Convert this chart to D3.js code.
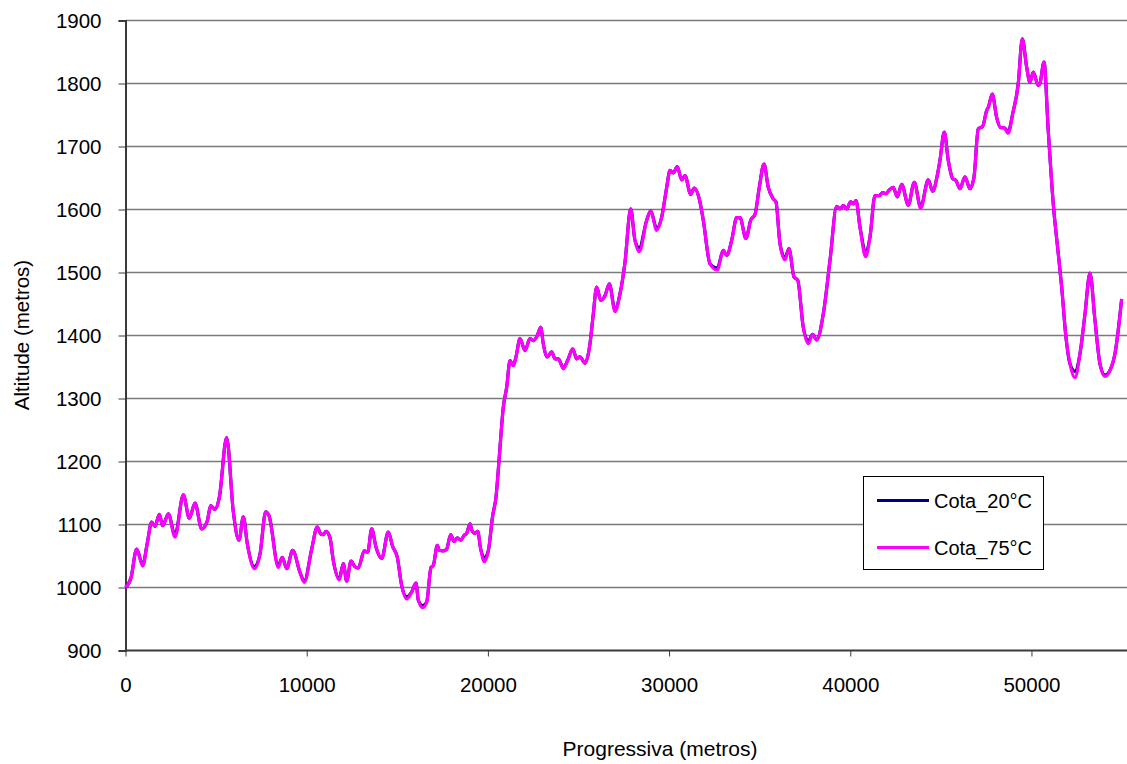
<!DOCTYPE html>
<html>
<head>
<meta charset="utf-8">
<script src="https://cdn.jsdelivr.net/npm/d3@7"></script>
<style>
  body { margin: 0; background: #fff; }
  text { font-family: "Liberation Sans", Arial, sans-serif; fill: #000; }
</style>
</head>
<body>
<div id="my_dataviz"></div>
<script>
// data
var progressiva = [0, 300, 617, 948, 1200, 1445, 1628, 1867, 2050, 2364, 2732, 3192, 3523, 3836, 4204, 4517, 4700, 4939, 5178, 5583,
  5951, 6264, 6503, 6724, 7110, 7423, 7737, 7919, 8433, 8653, 8896, 9227, 9630, 9868, 10276, 10585, 10773, 10917, 11065, 11286,
  11468, 11799, 12020, 12207, 12445, 12666, 12848, 13178, 13366, 13587, 13825, 14139, 14503, 14746, 15000, 15243, 15519, 15795, 16032, 16159,
  16402, 16623, 16860, 16987, 17208, 17318, 17539, 17726, 17947, 18129, 18311, 18499, 18698, 18830, 19012, 19139, 19288, 19437, 19603, 19801,
  20022, 20265, 20447, 20629, 20850, 21038, 21220, 21402, 21551, 21772, 22048, 22323, 22506, 22726, 22914, 23057, 23278, 23521, 23703, 23885,
  24161, 24437, 24680, 24901, 25083, 25359, 25635, 25817, 26004, 26225, 26462, 26700, 27015, 27290, 27566, 27881, 28118, 28355, 28764, 28985,
  29316, 29592, 29868, 30050, 30232, 30453, 30695, 30877, 31192, 31391, 31667, 31888, 32257, 32660, 32991, 33179, 33455, 33731, 33913, 34244,
  34503, 34740, 34978, 35237, 35475, 35751, 35900, 36120, 36396, 36617, 36893, 37097, 37406, 37682, 37925, 38146, 38510, 38880, 39249, 39432,
  39614, 39801, 40022, 40166, 40315, 40536, 40850, 41087, 41363, 41601, 41788, 41970, 42152, 42373, 42594, 42836, 43201, 43532, 43885, 44305,
  44548, 44801, 44950, 45188, 45408, 45651, 45833, 46054, 46329, 46605, 46826, 47064, 47307, 47527, 47616, 47836, 48079, 48300, 48482, 48719,
  48963, 49272, 49493, 49735, 49917, 50099, 50375, 50469, 50690, 50927, 51203, 51479, 51667, 51904, 52125, 52401, 52677, 52953, 53229, 53505,
  53780, 54056, 54370, 54608, 54978];

var cota20 = [1000, 1015, 1061, 1036, 1070, 1104, 1097, 1116, 1098, 1117, 1083, 1147, 1110, 1134, 1093, 1106, 1130, 1124, 1143, 1238,
  1120, 1075, 1112, 1069, 1033, 1053, 1120, 1114, 1035, 1048, 1030, 1059, 1024, 1010, 1061, 1096, 1085, 1084, 1089, 1079,
  1043, 1014, 1038, 1010, 1042, 1033, 1031, 1058, 1056, 1093, 1064, 1046, 1088, 1065, 1048, 1003, 985, 993, 1007, 980,
  971, 977, 1032, 1035, 1067, 1059, 1058, 1061, 1084, 1073, 1079, 1075, 1083, 1086, 1101, 1089, 1086, 1089, 1061, 1047,
  1058, 1114, 1143, 1207, 1286, 1318, 1360, 1352, 1366, 1395, 1376, 1395, 1392, 1400, 1413, 1387, 1366, 1374, 1363, 1363,
  1349, 1363, 1379, 1363, 1366, 1356, 1387, 1434, 1477, 1456, 1463, 1482, 1441, 1466, 1516, 1601, 1551, 1539, 1583, 1598,
  1570, 1588, 1635, 1662, 1658, 1668, 1647, 1654, 1624, 1634, 1617, 1583, 1514, 1507, 1535, 1527, 1551, 1587, 1587, 1554,
  1583, 1592, 1635, 1672, 1635, 1617, 1612, 1546, 1523, 1538, 1493, 1488, 1413, 1391, 1402, 1393, 1434, 1519, 1605, 1601,
  1606, 1601, 1612, 1609, 1614, 1572, 1534, 1556, 1622, 1622, 1627, 1625, 1631, 1635, 1620, 1640, 1607, 1643, 1604, 1647,
  1629, 1654, 1678, 1723, 1678, 1649, 1646, 1633, 1652, 1633, 1651, 1728, 1732, 1757, 1762, 1783, 1746, 1730, 1730, 1724,
  1752, 1800, 1871, 1826, 1802, 1818, 1797, 1800, 1834, 1725, 1609, 1530, 1477, 1397, 1355, 1343, 1371, 1434, 1499, 1424,
  1355, 1337, 1347, 1371, 1458];

var cota75 = [1000, 1015, 1061, 1034, 1070, 1104, 1097, 1116, 1098, 1117, 1080, 1147, 1110, 1134, 1093, 1106, 1130, 1124, 1143, 1238,
  1120, 1075, 1112, 1069, 1030, 1053, 1120, 1114, 1032, 1048, 1030, 1059, 1024, 1008, 1061, 1096, 1085, 1084, 1089, 1079,
  1043, 1012, 1038, 1010, 1042, 1033, 1031, 1058, 1056, 1093, 1064, 1046, 1088, 1065, 1048, 1003, 982, 993, 1007, 980,
  968, 977, 1032, 1035, 1067, 1059, 1058, 1061, 1084, 1073, 1079, 1075, 1083, 1086, 1101, 1089, 1086, 1089, 1061, 1041,
  1058, 1114, 1143, 1207, 1286, 1318, 1360, 1352, 1366, 1395, 1376, 1395, 1392, 1400, 1413, 1387, 1366, 1374, 1363, 1363,
  1347, 1363, 1379, 1363, 1366, 1356, 1387, 1434, 1477, 1456, 1463, 1482, 1438, 1466, 1516, 1601, 1551, 1533, 1583, 1598,
  1567, 1588, 1635, 1662, 1658, 1668, 1647, 1654, 1624, 1634, 1617, 1583, 1514, 1504, 1535, 1527, 1551, 1587, 1587, 1554,
  1583, 1592, 1635, 1672, 1635, 1617, 1612, 1546, 1520, 1538, 1493, 1488, 1413, 1387, 1402, 1393, 1434, 1519, 1605, 1601,
  1606, 1601, 1612, 1609, 1614, 1572, 1525, 1556, 1622, 1622, 1627, 1625, 1631, 1635, 1620, 1640, 1607, 1643, 1602, 1647,
  1629, 1654, 1678, 1723, 1678, 1649, 1646, 1633, 1652, 1633, 1651, 1728, 1732, 1757, 1762, 1783, 1746, 1730, 1730, 1721,
  1752, 1800, 1871, 1826, 1802, 1818, 1797, 1800, 1834, 1725, 1609, 1530, 1477, 1397, 1355, 1333, 1371, 1434, 1499, 1424,
  1355, 1335, 1347, 1371, 1458];

var seriesNames = ["Cota_20°C", "Cota_75°C"];
var seriesColors = ["#000080", "#ff00ff"];
var xTicks = [0, 10000, 20000, 30000, 40000, 50000];
var yTicks = [900, 1000, 1100, 1200, 1300, 1400, 1500, 1600, 1700, 1800, 1900];

var width = 1127, height = 764;

var svg = d3.select("#my_dataviz")
  .append("svg")
    .attr("width", width)
    .attr("height", height);

// scales
var x = d3.scaleLinear()
  .domain([0, 55300])
  .range([125.5, 1127.5]);

var y = d3.scaleLinear()
  .domain([900, 1900])
  .range([650.5, 20.5]);

// horizontal gridlines
svg.append("g")
  .selectAll("line")
  .data(yTicks.slice(1))
  .enter()
  .append("line")
    .attr("x1", x(0))
    .attr("x2", width)
    .attr("y1", function (d) { return y(d); })
    .attr("y2", function (d) { return y(d); })
    .attr("stroke", "#7a7a7a")
    .attr("stroke-width", 1.4);

// X axis
var xAxis = svg.append("g")
  .attr("transform", "translate(0," + y(900) + ")")
  .call(d3.axisBottom(x).tickValues(xTicks).tickFormat(d3.format("d")).tickSizeOuter(0).tickSize(6).tickPadding(21));
xAxis.select(".domain").attr("stroke", "#3a3a3a").attr("stroke-width", 2).attr("d", "M" + x(0) + ",0H" + width);
xAxis.selectAll(".tick line").attr("stroke", "#3a3a3a");
xAxis.selectAll("text").style("font-size", "20.5px");

// Y axis
var yAxis = svg.append("g")
  .attr("transform", "translate(" + x(0) + ",0)")
  .call(d3.axisLeft(y).tickValues(yTicks).tickFormat(d3.format("d")).tickSizeOuter(0).tickSize(7).tickPadding(17));
yAxis.select(".domain").attr("stroke", "#3a3a3a").attr("stroke-width", 2);
yAxis.selectAll(".tick line").attr("stroke", "#3a3a3a");
yAxis.selectAll("text").style("font-size", "20.5px");

// lines
var line = d3.line()
  .x(function (d) { return x(d[0]); })
  .y(function (d) { return y(d[1]); })
  .curve(d3.curveMonotoneX);

[cota20, cota75].forEach(function (vals, i) {
  svg.append("path")
    .datum(progressiva.map(function (p, j) { return [p, vals[j]]; }))
    .attr("fill", "none")
    .attr("stroke", seriesColors[i])
    .attr("stroke-width", 3.2)
    .attr("stroke-linejoin", "round")
    .attr("d", line);
});

// axis titles
svg.append("text")
  .attr("x", 660)
  .attr("y", 748)
  .attr("text-anchor", "middle")
  .attr("dominant-baseline", "central")
  .style("font-size", "21px")
  .text("Progressiva (metros)");

svg.append("text")
  .attr("transform", "translate(21,335) rotate(-90)")
  .attr("text-anchor", "middle")
  .attr("dominant-baseline", "central")
  .style("font-size", "20.5px")
  .text("Altitude (metros)");

// legend
var legend = svg.append("g");
legend.append("rect")
  .attr("x", 863.5)
  .attr("y", 476.5)
  .attr("width", 180)
  .attr("height", 93)
  .attr("fill", "#fff")
  .attr("stroke", "#000")
  .attr("stroke-width", 1);

var legendY = [500.5, 547.5];
seriesNames.forEach(function (name, i) {
  legend.append("line")
    .attr("x1", 877)
    .attr("x2", 929)
    .attr("y1", legendY[i])
    .attr("y2", legendY[i])
    .attr("stroke", seriesColors[i])
    .attr("stroke-width", 3);
  legend.append("text")
    .attr("x", 934)
    .attr("y", legendY[i])
    .attr("dominant-baseline", "central")
    .style("font-size", "20px")
    .text(name);
});
</script>
</body>
</html>
